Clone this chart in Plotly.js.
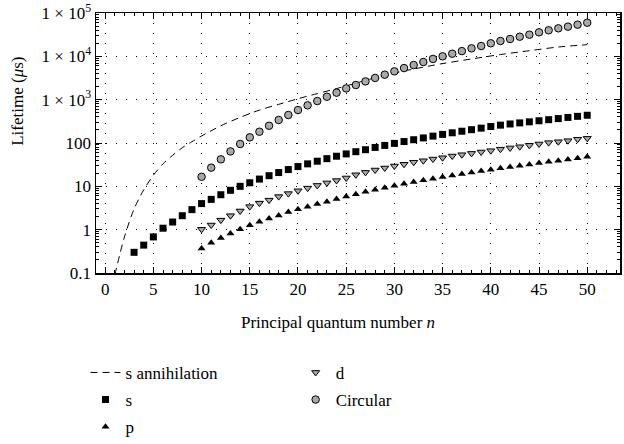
<!DOCTYPE html>
<html>
<head>
<meta charset="utf-8">
<script src="https://cdn.plot.ly/plotly-3.0.1.min.js"></script>
<style>html,body{margin:0;padding:0;background:#fff;}#chart{width:624px;height:444px;}</style>
</head>
<body>
<div id="chart"></div>
<script>
// ---- data ----
const nAnn = [1,2,3,4,5,6,7,8,9,10,12,14,16,18,20,22,24,26,28,30,32,35,38,41,44,47,50];
const sAnnihilation = [0.09,0.68,3.0,8.3,18,33,52,78,107,145,250,390,575,780,1050,1380,1800,2400,3200,4100,5100,6800,8700,11000,13500,16400,18600];

const nS = [3,4,5,6,7,8,9,10,11,12,13,14,15,16,17,18,19,20,21,22,23,24,25,26,27,28,29,30,31,32,33,34,35,36,37,38,39,40,41,42,43,44,45,46,47,48,49,50];
const sVals = [0.30,0.44,0.68,1.08,1.5,2.1,2.9,4.0,5.0,6.4,8.1,10.0,12.1,14.7,17.6,20.8,24.4,28.6,33,38,43.5,49.5,56,
               63,70,79,88,98,108,119,131,144,158,172,187,203,220,240,258,275,291,308,326,345,366,389,412,437];

const nHigh = [10,11,12,13,14,15,16,17,18,19,20,21,22,23,24,25,26,27,28,29,30,31,32,33,34,35,36,37,38,39,40,41,42,43,44,45,46,47,48,49,50];
const pVals = [0.37,0.50,0.64,0.82,1.02,1.26,1.53,1.8,2.13,2.55,2.95,3.4,3.9,4.4,5.1,5.8,6.6,7.5,8.3,9.3,
               10.3,11.4,12.6,13.9,15.0,16.4,17.8,19.3,20.8,22.5,24.2,26,28,30,32,34.5,37,39,41.5,44.4,48];
const dVals = [1.02,1.28,1.66,2.1,2.7,3.4,4.1,4.8,5.8,6.8,7.9,9.1,10.5,12,13.6,15.6,18.5,21,23.8,26.5,
               29.4,32.3,36,39,42.6,45.7,50,53.7,57.6,62,66.5,72,77,82,88.5,95,102,107,113,122,128];
const circVals = [16.6,27,42,64,95,135,182,250,340,443,577,740,930,1170,1450,1820,2180,2640,3170,3770,
                  4500,5360,6300,7400,8700,10000,11500,13200,15300,17300,20000,22600,25100,28400,31600,35800,39900,44300,48400,53800,59700];

const xTickVals = [0,5,10,15,20,25,30,35,40,45,50];
const yTickVals = [0.1,1,10,100,1000,10000,100000];
const yTickText = ['0.1','1','10','100','1 × 10<sup>3</sup>','1 × 10<sup>4</sup>','1 × 10<sup>5</sup>'];

const names = {ann:'s annihilation', s:'s', p:'p', d:'d', c:'Circular'};

const FONT = "'Liberation Serif', 'Times New Roman', serif";
const FS = 17;

const traces = [
  {x:nAnn, y:sAnnihilation, name:names.ann, mode:'lines', type:'scatter', legendgroup:'g1',
   line:{color:'#000', width:1, dash:'7px,5px', shape:'spline', smoothing:0.8}, legend:'legend'},
  {x:nS, y:sVals, name:names.s, mode:'markers', type:'scatter', legendgroup:'g2',
   marker:{symbol:'square', size:7, color:'#000'}, legend:'legend'},
  {x:nHigh, y:pVals, name:names.p, mode:'markers', type:'scatter', legendgroup:'g3',
   marker:{symbol:'triangle-up', size:7, color:'#000'}, legend:'legend'},
  {x:nHigh, y:dVals, name:names.d, mode:'markers', type:'scatter', legendgroup:'g4',
   marker:{symbol:'triangle-down', size:7, color:'#a8a8a8', line:{color:'#000', width:1}}, legend:'legend2'},
  {x:nHigh, y:circVals, name:names.c, mode:'markers', type:'scatter', legendgroup:'g5',
   marker:{symbol:'circle', size:7.5, color:'#a8a8a8', line:{color:'#000', width:1}}, legend:'legend2'}
];

const axisCommon = {
  showline:true, linecolor:'#000', linewidth:1.5, mirror:'allticks',
  ticks:'inside', ticklen:6, tickwidth:1, tickcolor:'#000',
  showgrid:true, gridcolor:'#000', gridwidth:1, griddash:'1px,9px',
  zeroline:false, tickfont:{family:FONT, size:FS, color:'#000'}
};

const layout = {
  width:624, height:444,
  margin:{l:96, r:4, t:13, b:171, autoexpand:false},
  paper_bgcolor:'#fff', plot_bgcolor:'#fff',
  font:{family:FONT, size:FS, color:'#000'},
  xaxis:Object.assign({}, axisCommon, {
    range:[-0.95, 53.4], tickmode:'array', tickvals:xTickVals,
    minor:{ticks:'inside', ticklen:3, tickcolor:'#000', dtick:1, tick0:0, showgrid:false}
  }),
  yaxis:Object.assign({}, axisCommon, {
    type:'log', range:[-1,5], tickmode:'array', tickvals:yTickVals, ticktext:yTickText,
    minor:{ticks:'inside', ticklen:3, tickcolor:'#000', dtick:'D1', showgrid:false}
  }),
  showlegend:true,
  legend:{x:-0.02, xanchor:'left', y:-0.315, yanchor:'top', bgcolor:'rgba(0,0,0,0)',
          font:{family:FONT, size:FS, color:'#000'}, tracegroupgap:2},
  legend2:{x:0.381, xanchor:'left', y:-0.315, yanchor:'top', bgcolor:'rgba(0,0,0,0)',
          font:{family:FONT, size:FS, color:'#000'}, tracegroupgap:2},
  annotations:[
    {text:'Principal quantum number <i>n</i>', xref:'paper', yref:'paper', x:0.462, y:-0.19,
     xanchor:'center', yanchor:'middle', showarrow:false, font:{family:FONT, size:FS, color:'#000'}},
    {text:'Lifetime (<i>μ</i>s)', xref:'paper', yref:'paper', x:-0.15, y:0.66, textangle:-90,
     xanchor:'center', yanchor:'middle', showarrow:false, font:{family:FONT, size:FS, color:'#000'}}
  ]
};

Plotly.newPlot('chart', traces, layout, {displayModeBar:false, staticPlot:true});
</script>
</body>
</html>
